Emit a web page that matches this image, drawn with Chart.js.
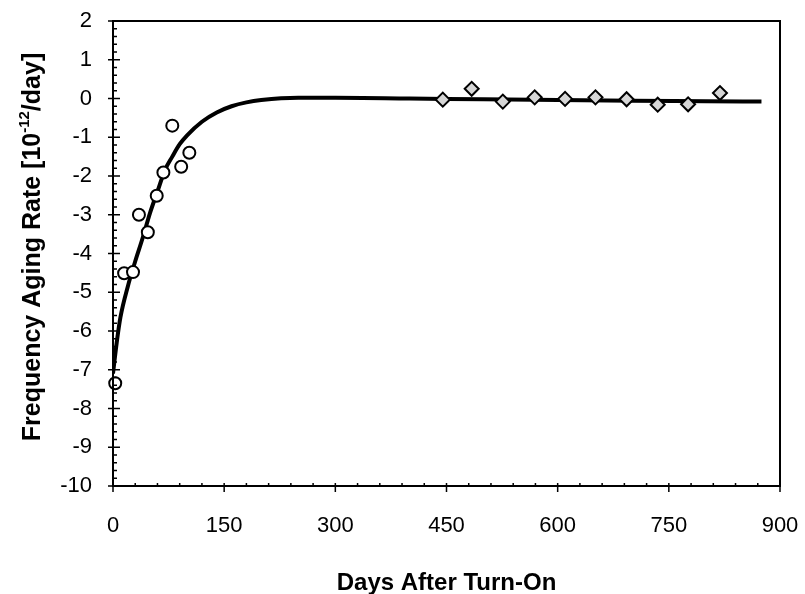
<!DOCTYPE html>
<html>
<head>
<meta charset="utf-8">
<script src="https://cdn.jsdelivr.net/npm/chart.js@4.4.1/dist/chart.umd.min.js"></script>
<style>
  html, body { margin: 0; padding: 0; background: #fff; }
  canvas { display: block; }
</style>
</head>
<body>
<canvas id="aging-chart" width="805" height="594"></canvas>
<script>
// Axis ranges and tick steps
const xRange = [0, 900];
const xStep = 150;
const yRange = [-10, 2];
const yStep = 1;

// Fitted aging curve
const curveDays = [0, 5, 10, 20, 30, 40, 50, 60, 70, 80, 90, 100, 120, 140, 160, 180, 200, 250, 300, 400, 500, 600, 700, 800, 875];
const curveRate = [-7.1, -6.3, -5.65, -4.85, -4.2, -3.6, -2.95, -2.4, -1.85, -1.5, -1.18, -0.95, -0.6, -0.36, -0.2, -0.1, -0.04, 0.02, 0.02, 0.0, -0.02, -0.04, -0.06, -0.07, -0.08];

// Early measurements (open circles)
const earlyDays = [3, 15, 27, 35, 47, 59, 68, 80, 92, 103];
const earlyRate = [-7.35, -4.51, -4.48, -3.0, -3.45, -2.51, -1.91, -0.7, -1.76, -1.4];

// Late measurements (diamonds)
const lateDays = [445, 484, 526, 569, 610, 651, 693, 735, 776, 819];
const lateRate = [-0.03, 0.25, -0.08, 0.03, -0.01, 0.03, -0.02, -0.16, -0.15, 0.14];

const FONT = '"Liberation Sans", Arial, Helvetica, sans-serif';

function toPoints(xs, ys) {
  return xs.map((x, i) => ({ x: x, y: ys[i] }));
}

// keep the plot box fixed: no extra room for overhanging labels
function fixScale(scale, size) {
  if (scale.isHorizontal()) {
    scale.height = size;
  } else {
    scale.width = size;
  }
  scale.paddingTop = 0;
  scale.paddingBottom = 0;
  scale.paddingLeft = 0;
  scale.paddingRight = 0;
}

/**
 * Draws the frame, the inner/outer tick marks and the axis titles
 */
const frameAndTitles = {
  id: 'frameAndTitles',
  afterDraw(chart) {
    const { ctx, chartArea: a, scales } = chart;
    const x = scales.x;
    const y = scales.y;
    ctx.save();
    ctx.strokeStyle = '#000';
    ctx.lineWidth = 2;
    ctx.strokeRect(a.left, a.top, a.right - a.left, a.bottom - a.top);

    // tick marks: majors cross the axis, minors sit inside
    ctx.lineWidth = 1.5;
    ctx.beginPath();
    for (let i = 0; i <= (yRange[1] - yRange[0]) * 5; i++) {
      const py = y.getPixelForValue(yRange[0] + i * 0.2);
      const major = i % 5 === 0;
      ctx.moveTo(a.left - (major ? 5 : 0), py);
      ctx.lineTo(a.left + (major ? 7 : 4), py);
    }
    for (let d = xRange[0]; d <= xRange[1]; d += 30) {
      const px = x.getPixelForValue(d);
      const major = d % xStep === 0;
      ctx.moveTo(px, a.bottom + (major ? 6 : 0));
      ctx.lineTo(px, a.bottom - 3);
    }
    ctx.stroke();

    // x title
    ctx.fillStyle = '#000';
    ctx.font = 'bold 24px ' + FONT;
    ctx.textAlign = 'center';
    ctx.textBaseline = 'alphabetic';
    ctx.fillText('Days After Turn-On', (a.left + a.right) / 2, 590);

    // y title with superscript exponent
    const big = 'bold 25px ' + FONT;
    const small = 'bold 15px ' + FONT;
    const parts = [
      ['Frequency Aging Rate [10', big, 0],
      ['-12', small, -11],
      ['/day]', big, 0],
    ];
    let total = 0;
    parts.forEach((p) => {
      ctx.font = p[1];
      total += ctx.measureText(p[0]).width;
    });
    ctx.translate(40, 247);
    ctx.rotate(-Math.PI / 2);
    ctx.textAlign = 'left';
    let cx = -total / 2;
    parts.forEach((p) => {
      ctx.font = p[1];
      ctx.fillText(p[0], cx, p[2]);
      cx += ctx.measureText(p[0]).width;
    });
    ctx.restore();
  },
};

new Chart(document.getElementById('aging-chart'), {
  type: 'scatter',
  data: {
    datasets: [
      {
        type: 'line',
        label: 'Fit',
        data: toPoints(curveDays, curveRate),
        borderColor: '#000',
        borderWidth: 4,
        pointRadius: 0,
        cubicInterpolationMode: 'monotone',
        fill: false,
        order: 3,
      },
      {
        label: 'Early',
        data: toPoints(earlyDays, earlyRate),
        pointStyle: 'circle',
        pointRadius: 6,
        pointBorderWidth: 2,
        borderColor: '#000',
        backgroundColor: '#fff',
        clip: false,
        order: 1,
      },
      {
        label: 'Late',
        data: toPoints(lateDays, lateRate),
        pointStyle: 'rectRot',
        pointRadius: 7,
        pointBorderWidth: 2,
        borderColor: '#000',
        backgroundColor: '#d6d6d6',
        clip: false,
        order: 1,
      },
    ],
  },
  options: {
    responsive: false,
    animation: false,
    layout: { padding: { top: 21, right: 25, left: 0, bottom: 0 } },
    plugins: {
      legend: { display: false },
      tooltip: { enabled: false },
    },
    scales: {
      x: {
        type: 'linear',
        min: xRange[0],
        max: xRange[1],
        grid: { display: false, drawTicks: false },
        border: { display: false },
        ticks: {
          stepSize: xStep,
          padding: 27,
          color: '#000',
          font: { family: FONT, size: 22 },
          maxRotation: 0,
        },
        afterFit(scale) {
          fixScale(scale, 108);
        },
      },
      y: {
        type: 'linear',
        min: yRange[0],
        max: yRange[1],
        grid: { display: false, drawTicks: false },
        border: { display: false },
        ticks: {
          stepSize: yStep,
          padding: 21,
          color: '#000',
          font: { family: FONT, size: 22 },
        },
        afterFit(scale) {
          fixScale(scale, 113);
        },
      },
    },
  },
  plugins: [frameAndTitles],
});
</script>
</body>
</html>
